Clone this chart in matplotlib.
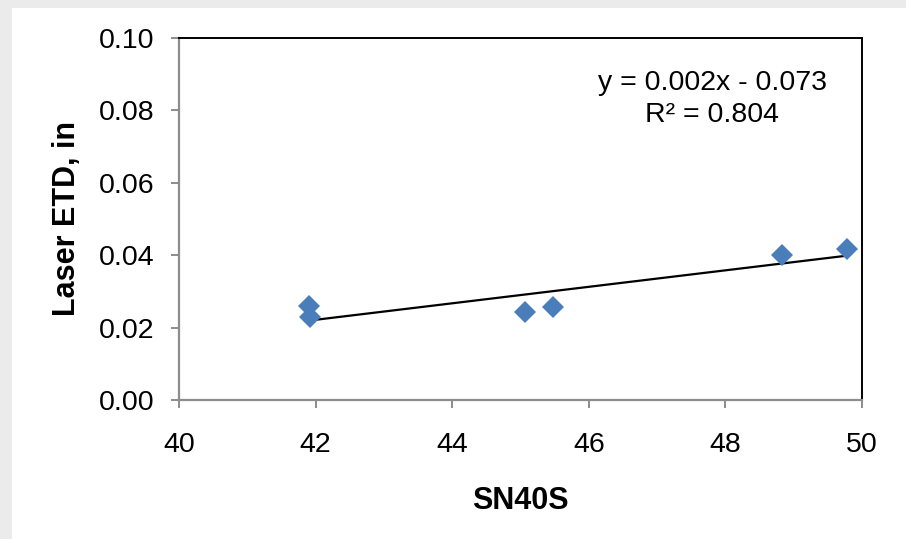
import numpy as np
import matplotlib
matplotlib.use("Agg")
import matplotlib.pyplot as plt
from matplotlib.patches import Rectangle

# -- Data ----------------------------------------------------------------------
sn40s = [41.90, 41.92, 45.07, 45.48, 48.83, 49.78]
laser_etd = [0.0260, 0.0229, 0.0243, 0.0257, 0.0401, 0.0417]

x_ticks = [40, 42, 44, 46, 48, 50]
y_ticks = [0.00, 0.02, 0.04, 0.06, 0.08, 0.10]
equation_text = "y = 0.002x - 0.073\nR\u00b2 = 0.804"

# -- Style ---------------------------------------------------------------------
plt.rcParams["font.family"] = ["Liberation Sans", "DejaVu Sans"]
MARKER_COLOR = "#4A7EBB"
AXIS_GRAY = "#8C8C8C"

fig = plt.figure(figsize=(9.06, 5.39), dpi=100)
fig.patch.set_facecolor("#EBEBEB")
fig.patches.append(Rectangle((12 / 906, 0), 1, 1 - 8 / 539, transform=fig.transFigure,
                             facecolor="white", edgecolor="none", zorder=-10))

ax = fig.add_axes([0.1976, 0.2579, 0.9514 - 0.1976, 0.9295 - 0.2579])
ax.set_facecolor("white")

# trend line from least squares fit over the data range
coef = np.polyfit(sn40s, laser_etd, 1)
xs = np.array([min(sn40s), max(sn40s)])
ax.plot(xs, np.polyval(coef, xs), color="black", linewidth=1.6, zorder=2)

ax.plot(sn40s, laser_etd, linestyle="none", marker="D", markersize=11,
        color=MARKER_COLOR, markeredgewidth=0, zorder=3)

ax.set_xlim(40, 50)
ax.set_ylim(0, 0.10)
ax.set_xticks(x_ticks)
ax.set_yticks(y_ticks)
ax.set_xticklabels([f"{v:d}" for v in x_ticks])
ax.set_yticklabels([f"{v:.2f}" for v in y_ticks])

for side in ["left", "bottom"]:
    ax.spines[side].set_color(AXIS_GRAY)
    ax.spines[side].set_linewidth(1.6)
for side in ["top", "right"]:
    ax.spines[side].set_color("black")
    ax.spines[side].set_linewidth(1.4)

ax.tick_params(axis="both", direction="out", length=6, width=1.4, color=AXIS_GRAY,
               labelsize=20.5)
ax.tick_params(axis="x", pad=17)
ax.tick_params(axis="y", pad=12)

ax.set_xlabel("SN40S", fontsize=22, fontweight="bold", labelpad=20)
ax.set_ylabel("Laser ETD, in", fontsize=22, fontweight="bold", labelpad=12)

fig.text(712 / 906, 1 - 99 / 539, equation_text, fontsize=20.5, ha="center",
         va="center", linespacing=1.3)

fig.savefig("out.png", dpi=100, facecolor=fig.get_facecolor())
